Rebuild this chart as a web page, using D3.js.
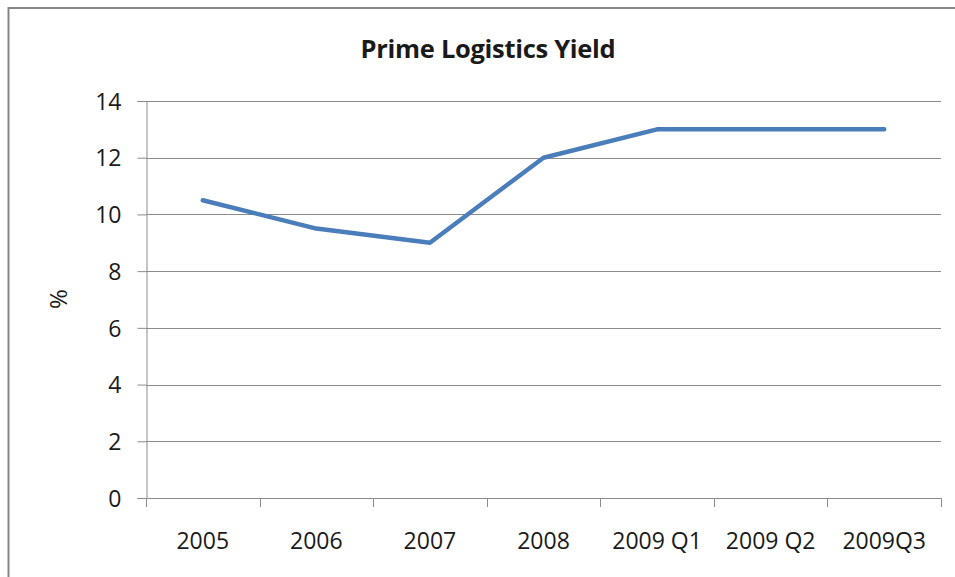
<!DOCTYPE html>
<html>
<head>
<meta charset="utf-8">
<script src="https://cdn.jsdelivr.net/npm/d3@7"></script>
<style>
  html, body { margin: 0; padding: 0; background: #fff; }
  svg { display: block; }
  text { font-family: "Open Sans", Lato, sans-serif; fill: #1a1a1a; }
</style>
</head>
<body>
<svg id="chart" width="955" height="577"></svg>
<script>
// Prime logistics yield, in percent
const categories = ["2005", "2006", "2007", "2008", "2009 Q1", "2009 Q2", "2009Q3"];
const yieldValues = [10.5, 9.5, 9.0, 12.0, 13.0, 13.0, 13.0];
const yTicks = [0, 2, 4, 6, 8, 10, 12, 14];
const chartTitle = "Prime Logistics Yield";
const yAxisTitle = "%";

const svg = d3.select("#chart");

// chart frame (runs past the right and bottom edges)
svg.append("rect")
  .attr("x", 8.5).attr("y", 8)
  .attr("width", 1000).attr("height", 1000)
  .attr("fill", "none")
  .attr("stroke", "#868686")
  .attr("stroke-width", 2);

const plot = { left: 146, right: 941, top: 101, bottom: 498 };

const x = d3.scaleBand()
  .domain(categories)
  .range([plot.left, plot.right])
  .paddingInner(0).paddingOuter(0);

const y = d3.scaleLinear()
  .domain([0, 14])
  .range([plot.bottom, plot.top]);

// horizontal gridlines
svg.append("g")
  .selectAll("line")
  .data(yTicks)
  .join("line")
  .attr("x1", plot.left).attr("x2", plot.right)
  .attr("y1", d => Math.round(y(d)) + 0.5)
  .attr("y2", d => Math.round(y(d)) + 0.5)
  .attr("stroke", "#8c8c8c")
  .attr("stroke-width", 1);

// y axis
const yAxis = svg.append("g")
  .attr("transform", `translate(${plot.left + 0.5},0)`)
  .call(d3.axisLeft(y).tickValues(yTicks).tickSize(9).tickPadding(16).tickFormat(d3.format("d")));
yAxis.select(".domain").attr("stroke", "#8c8c8c");
yAxis.selectAll(".tick line").attr("stroke", "#8c8c8c");
yAxis.selectAll(".tick text")
  .attr("font-size", 23)
  .attr("font-family", "'Open Sans', Lato, sans-serif")
  .attr("fill", "#1a1a1a")
  .attr("dy", "0.36em");

// x axis: ticks on category boundaries
const boundaries = categories.map(c => x(c)).concat([x(categories[categories.length - 1]) + x.bandwidth()]);
const xAxisG = svg.append("g");
xAxisG.append("line")
  .attr("x1", plot.left).attr("x2", plot.right)
  .attr("y1", plot.bottom + 0.5).attr("y2", plot.bottom + 0.5)
  .attr("stroke", "#8c8c8c");
xAxisG.selectAll("line.tick")
  .data(boundaries)
  .join("line")
  .attr("class", "tick")
  .attr("x1", d => Math.round(d) + 0.5).attr("x2", d => Math.round(d) + 0.5)
  .attr("y1", plot.bottom).attr("y2", plot.bottom + 9)
  .attr("stroke", "#8c8c8c");
xAxisG.selectAll("text")
  .data(categories)
  .join("text")
  .attr("x", d => x(d) + x.bandwidth() / 2)
  .attr("y", 549)
  .attr("text-anchor", "middle")
  .attr("font-size", 23)
  .text(d => d);

// series line
const line = d3.line()
  .x((d, i) => x(categories[i]) + x.bandwidth() / 2)
  .y(d => y(d));
svg.append("path")
  .datum(yieldValues)
  .attr("d", line)
  .attr("fill", "none")
  .attr("stroke", "#4a7ebb")
  .attr("stroke-width", 4.5)
  .attr("stroke-linejoin", "round")
  .attr("stroke-linecap", "round");

// titles
svg.append("text")
  .attr("x", 488).attr("y", 58)
  .attr("text-anchor", "middle")
  .attr("font-size", 25.5)
  .attr("font-weight", "bold")
  .attr("letter-spacing", -0.3)
  .text(chartTitle);

svg.append("text")
  .attr("transform", "translate(67,299) rotate(-90)")
  .attr("text-anchor", "middle")
  .attr("font-size", 24)
  .text(yAxisTitle);
</script>
</body>
</html>
